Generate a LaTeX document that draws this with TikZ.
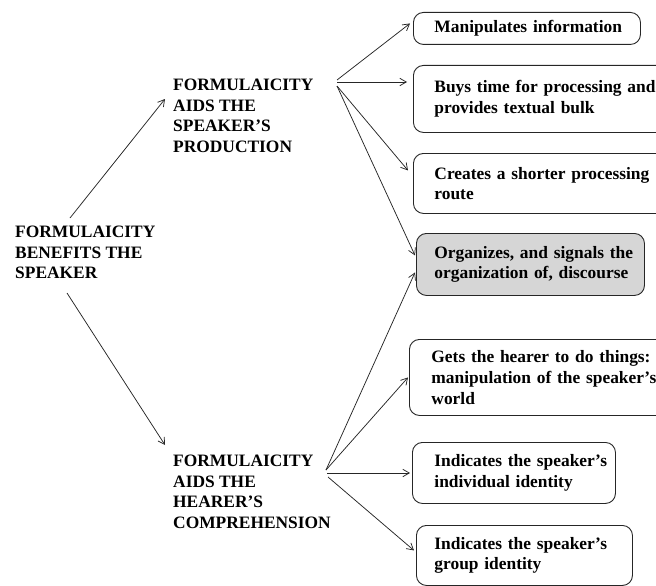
\documentclass[tikz,border=0pt]{standalone}
\usepackage{fontspec}
\setmainfont{Liberation Serif}
\usetikzlibrary{arrows.meta}
\begin{document}
\begin{tikzpicture}[x=1pt,y=-1pt,
  lbl/.style={anchor=north west,inner sep=0pt,align=left,font=\fontsize{17.4}{20.6}\selectfont\bfseries},
  bx/.style={anchor=north west,draw=black!85,line width=0.9pt,rounded corners=10pt,align=left,
     inner ysep=0pt,font=\fontsize{17.4}{20.6}\selectfont\bfseries},
  shade/.style={fill=black!16},
  arr/.style={draw=black!85,line width=0.75pt,-{Straight Barb[length=6.5pt,width=7.5pt]}}]
\useasboundingbox (0,0) rectangle (656,586);
% labels
\node[lbl] (ben) at (15,226) {FORMULAICITY\\BENEFITS THE\\SPEAKER};
\node[lbl] (spk) at (173,79) {FORMULAICITY\\AIDS THE\\SPEAKER’S\\PRODUCTION};
\node[lbl] (hea) at (173,455) {FORMULAICITY\\AIDS THE\\HEARER’S\\COMPREHENSION};
% boxes
\node[bx,inner xsep=21pt,text width=185pt,minimum height=32pt] (b1) at (413,12) {\mbox{Manipulates information}};
\node[bx,inner xsep=21pt,text width=217pt,minimum height=67pt] (b2) at (413,65) {\mbox{Buys time for processing and}\\\mbox{provides textual bulk}};
\node[bx,inner xsep=21pt,text width=217pt,minimum height=60pt] (b3) at (413,153) {\mbox{Creates a shorter processing}\\\mbox{route}};
\node[bx,shade,inner xsep=18pt,text width=192pt,minimum height=62pt] (b4) at (416,233) {\mbox{Organizes, and signals the}\\\mbox{organization of, discourse}};
\node[bx,inner xsep=22pt,text width=221pt,minimum height=76pt] (b5) at (409,339) {\mbox{Gets the hearer to do things:}\\\mbox{manipulation of the speaker’s}\\\mbox{world}};
\node[bx,inner xsep=22pt,text width=159pt,minimum height=61pt] (b6) at (412,442) {\mbox{Indicates the speaker’s}\\\mbox{individual identity}};
\node[bx,inner xsep=18pt,text width=180pt,minimum height=60pt] (b7) at (416,525) {\mbox{Indicates the speaker’s}\\\mbox{group identity}};
% fan origins and free ends
\coordinate (s1) at (70,218);
\coordinate (t1) at (165,99);
\coordinate (s2) at (67,293);
\coordinate (t2) at (165,445);
\coordinate (U1) at (337,80);
\coordinate (U2) at (337,82);
\coordinate (U3) at (337,86);
\coordinate (L1) at (326,470);
\coordinate (L2) at (327,473);
\coordinate (L3) at (328,477);
% arrows
\draw[arr] (s1) -- (t1);
\draw[arr] (s2) -- (t2);
\draw[arr] (U1) -- ([xshift=-3pt,yshift=5pt]b1.west);
\draw[arr] (U2) -- ([xshift=-6pt]b2.west |- U2);
\draw[arr] (U3) -- ([xshift=-5pt,yshift=13pt]b3.west);
\draw[arr] (U3) -- ([xshift=-1pt,yshift=9pt]b4.west);
\draw[arr] (L1) -- ([xshift=-1pt,yshift=-8pt]b4.west);
\draw[arr] (L1) -- ([xshift=-1pt]b5.west);
\draw[arr] (L2) -- ([xshift=-2pt]b6.west |- L2);
\draw[arr] (L3) -- ([xshift=-2pt,yshift=5pt]b7.west);
\end{tikzpicture}
\end{document}
